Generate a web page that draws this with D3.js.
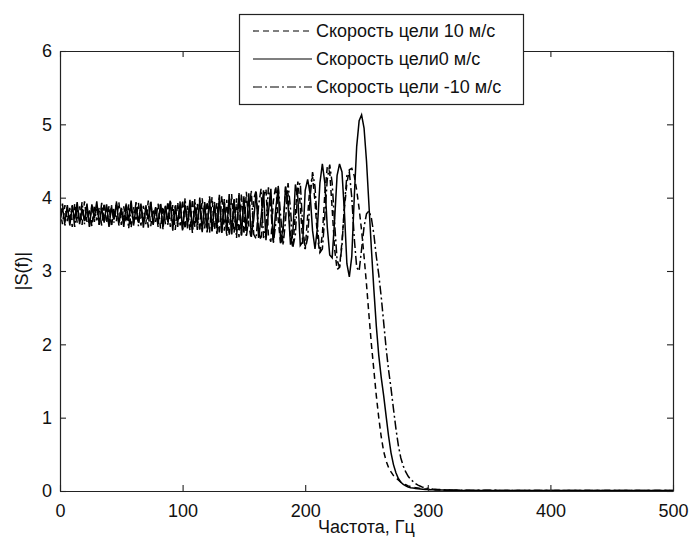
<!DOCTYPE html>
<html>
<head>
<meta charset="utf-8">
<script src="https://cdn.jsdelivr.net/npm/d3@7/dist/d3.min.js"></script>
<style>
  html, body { margin: 0; padding: 0; background: #fff; }
  svg { display: block; }
  text { font-family: "Liberation Sans", Arial, sans-serif; fill: #111; }
</style>
</head>
<body>
<svg id="chart" width="689" height="540"></svg>
<script>
// ---------- DATA ----------
const xTicks = [0, 100, 200, 300, 400, 500];
const yTicks = [0, 1, 2, 3, 4, 5, 6];
const seriesNames = ["Скорость цели 10 м/с", "Скорость цели0 м/с", "Скорость цели -10 м/с"];
const xLabel = "Частота, Гц";
const yLabel = "|S(f)|";

// frequency grid (Hz): 0..330 every 2 Hz, then 500
const freq = d3.range(0, 331, 2).concat([500]);

// |S(f)| for target speed +10 m/s (dashed)
const speedPlus10 = [
  3.84, 3.64, 3.90, 3.68, 3.86, 3.60, 3.92, 3.66, 3.88, 3.63, 3.95, 3.67, 3.85, 3.61, 3.90, 3.69, 3.87, 3.62, 3.93, 3.65,
  3.89, 3.60, 3.86, 3.68, 3.94, 3.63, 3.88, 3.66, 3.91, 3.59, 3.87, 3.70, 3.93, 3.62, 3.89, 3.64, 3.96, 3.61, 3.85, 3.67,
  3.92, 3.58, 3.88, 3.64, 3.95, 3.60, 3.90, 3.56, 3.94, 3.62, 3.97, 3.57, 3.89, 3.55, 3.98, 3.60, 3.92, 3.54, 3.99, 3.58,
  3.95, 3.52, 4.01, 3.56, 3.93, 3.50, 4.03, 3.55, 3.97, 3.48, 4.05, 3.52, 3.99, 3.46, 4.06, 3.50,
  4.08, 3.62, 3.44, 3.98, 4.10, 3.52, 3.42, 4.02, 4.12, 3.48, 3.40, 3.95, 4.16, 3.70, 3.36, 3.55, 4.15, 4.05, 3.45, 3.32,
  3.80, 4.22, 3.90, 3.38, 3.30,
  3.75, 4.18, 4.28, 3.95, 3.45, 3.25, 3.50, 4.05, 4.42, 4.35, 3.85, 3.30, 3.02, 3.05, 3.40, 3.85, 4.20, 4.38, 4.40, 4.30,
  4.10, 3.85, 3.55, 3.20,
  2.82, 2.40, 2.00, 1.65, 1.30, 1.00, 0.74, 0.54, 0.41, 0.32, 0.26, 0.21, 0.18, 0.15, 0.12, 0.10, 0.085, 0.07, 0.06, 0.05,
  0.045, 0.04, 0.035, 0.03, 0.027, 0.024, 0.022, 0.02, 0.018, 0.016, 0.015, 0.014, 0.013, 0.012, 0.011, 0.010, 0.010, 0.009,
  0.009, 0.008, 0.008,
  0.006
];

// |S(f)| for target speed 0 m/s (solid)
const speedZero = [
  3.70, 3.86, 3.66, 3.90, 3.62, 3.88, 3.70, 3.94, 3.64, 3.85, 3.68, 3.92, 3.60, 3.89, 3.72, 3.95, 3.63, 3.86, 3.66, 3.91,
  3.62, 3.88, 3.70, 3.93, 3.65, 3.84, 3.60, 3.90, 3.68, 3.96, 3.62, 3.87, 3.66, 3.92, 3.59, 3.88, 3.70, 3.94, 3.63, 3.86,
  3.64, 3.91, 3.60, 3.89, 3.67, 3.95, 3.58, 3.86, 3.65, 3.93, 3.57, 3.90, 3.62, 3.97, 3.56, 3.88, 3.63, 3.96, 3.55, 3.92,
  3.58, 3.98, 3.54, 3.90, 3.60, 4.00, 3.52, 3.94, 3.56, 4.02, 3.50, 3.96, 3.54, 4.04, 3.48, 4.00,
  3.55, 4.06, 3.48, 3.70, 4.08, 3.45, 3.72, 4.10, 3.42, 3.80, 4.12, 3.40, 3.85, 4.14, 3.38, 3.60, 4.15, 3.90, 3.36, 3.55,
  4.18, 4.00, 3.35, 3.40, 4.10,
  4.25, 4.05, 3.55, 3.30, 3.60, 4.20, 4.46, 4.20, 3.60, 3.22, 3.18, 3.70, 4.30, 4.46, 4.35, 3.80, 3.10, 2.92, 3.20, 4.00,
  4.70, 5.05, 5.13,
  4.95, 4.50, 3.90, 3.30, 2.75, 2.25, 1.85, 1.55, 1.30, 1.02, 0.75, 0.52, 0.36, 0.25, 0.17, 0.12, 0.09, 0.07, 0.055, 0.045,
  0.04, 0.035, 0.03, 0.028, 0.025, 0.022, 0.02,
  0.018, 0.016, 0.015, 0.014, 0.013, 0.012, 0.011, 0.010, 0.010, 0.010, 0.009, 0.009, 0.008, 0.008, 0.008,
  0.006
];

// |S(f)| for target speed -10 m/s (dash-dot)
const speedMinus10 = [
  3.66, 3.92, 3.62, 3.87, 3.70, 3.90, 3.60, 3.86, 3.68, 3.94, 3.64, 3.88, 3.61, 3.91, 3.67, 3.85, 3.63, 3.93, 3.69, 3.87,
  3.60, 3.90, 3.66, 3.95, 3.62, 3.88, 3.68, 3.92, 3.58, 3.86, 3.65, 3.94, 3.61, 3.89, 3.67, 3.90, 3.59, 3.96, 3.64, 3.87,
  3.60, 3.93, 3.57, 3.90, 3.63, 3.97, 3.55, 3.91, 3.60, 3.95, 3.54, 3.99, 3.58, 3.92, 3.52, 3.98, 3.56, 4.00, 3.53, 3.94,
  3.51, 4.02, 3.55, 3.96, 3.49, 4.04, 3.53, 3.98, 3.47, 4.05, 3.51, 4.00, 3.45, 4.07, 3.49, 4.02,
  3.46, 3.75, 4.10, 3.50, 3.44, 3.90, 4.12, 3.45, 3.60, 4.14, 3.85, 3.38, 3.65, 4.16, 3.75, 3.35, 3.70, 4.20, 3.85, 3.33,
  3.50, 4.15, 4.20, 3.60, 3.30,
  3.45, 4.00, 4.35, 4.15, 3.60, 3.25, 3.30, 3.75, 4.25, 4.45, 4.20, 3.65, 3.15, 3.05, 3.35, 3.90, 4.30, 4.35, 4.00, 3.45,
  3.05, 3.00,
  3.30, 3.60, 3.78, 3.82, 3.72, 3.50, 3.20, 2.95, 2.65, 2.30, 1.95, 1.65, 1.40, 1.12, 0.85, 0.62, 0.45, 0.34, 0.26, 0.20,
  0.16, 0.13, 0.10, 0.08, 0.065, 0.05, 0.042, 0.036, 0.031, 0.027, 0.024, 0.021, 0.019, 0.017, 0.015, 0.014, 0.013, 0.012,
  0.011, 0.010, 0.010, 0.009, 0.009,
  0.006
];

// ---------- LAYOUT ----------
const svg = d3.select("#chart");
const L = 60, R = 673, T = 51, B = 491;
const x = d3.scaleLinear().domain([0, 500]).range([L, R]);
const y = d3.scaleLinear().domain([0, 6]).range([B, T]);
const fontSize = 18;

const series = [
  { values: speedPlus10, dash: "6,4" },
  { values: speedZero, dash: null },
  { values: speedMinus10, dash: "9,3,2,3" }
];

svg.append("defs").append("clipPath").attr("id", "clip")
  .append("rect").attr("x", L).attr("y", T - 2).attr("width", R - L).attr("height", B - T + 2);

const line = d3.line().x((d, i) => x(freq[i])).y(d => y(d));

const g = svg.append("g").attr("clip-path", "url(#clip)");
series.forEach(s => {
  g.append("path")
    .attr("d", line(s.values))
    .attr("fill", "none")
    .attr("stroke", "#000")
    .attr("stroke-width", 1.5)
    .attr("stroke-dasharray", s.dash);
});

// axes (bottom, left, top, right) with inward ticks
const tickLen = 6;
const fmt = d3.format("d");
const axB = svg.append("g").attr("transform", `translate(0,${B})`)
  .call(d3.axisBottom(x).tickValues(xTicks).tickSizeInner(-tickLen).tickSizeOuter(0).tickPadding(13).tickFormat(fmt));
const axT = svg.append("g").attr("transform", `translate(0,${T})`)
  .call(d3.axisTop(x).tickValues(xTicks).tickSizeInner(-tickLen).tickSizeOuter(0).tickFormat(""));
const axL = svg.append("g").attr("transform", `translate(${L},0)`)
  .call(d3.axisLeft(y).tickValues(yTicks).tickSizeInner(-tickLen).tickSizeOuter(0).tickPadding(8).tickFormat(fmt));
const axR = svg.append("g").attr("transform", `translate(${R},0)`)
  .call(d3.axisRight(y).tickValues(yTicks).tickSizeInner(-tickLen).tickSizeOuter(0).tickFormat(""));

[axB, axT, axL, axR].forEach(a => {
  a.select(".domain").attr("stroke", "#222").attr("stroke-width", 1.2);
  a.selectAll(".tick line").attr("stroke", "#222").attr("stroke-width", 1.1);
  a.selectAll("text")
    .style("font-family", '"Liberation Sans", Arial, sans-serif')
    .style("font-size", fontSize + "px")
    .attr("fill", "#111");
});

// axis titles
svg.append("text")
  .attr("x", (L + R) / 2).attr("y", 533)
  .attr("text-anchor", "middle")
  .style("font-size", fontSize + "px")
  .text(xLabel);

svg.append("text")
  .attr("transform", `translate(28,${(T + B) / 2}) rotate(-90)`)
  .attr("text-anchor", "middle")
  .style("font-size", fontSize + "px")
  .text(yLabel);

// legend
const lg = svg.append("g");
lg.append("rect")
  .attr("x", 239.5).attr("y", 14.5).attr("width", 284).attr("height", 90)
  .attr("fill", "#fff").attr("stroke", "#222").attr("stroke-width", 1.2);
const rowY = [31, 59, 87];
series.forEach((s, i) => {
  lg.append("line")
    .attr("x1", 253).attr("x2", 312)
    .attr("y1", rowY[i]).attr("y2", rowY[i])
    .attr("stroke", "#000").attr("stroke-width", 1.1)
    .attr("stroke-dasharray", s.dash);
  lg.append("text")
    .attr("x", 316).attr("y", rowY[i])
    .attr("dy", "0.35em")
    .style("font-size", fontSize + "px")
    .text(seriesNames[i]);
});
</script>
</body>
</html>
